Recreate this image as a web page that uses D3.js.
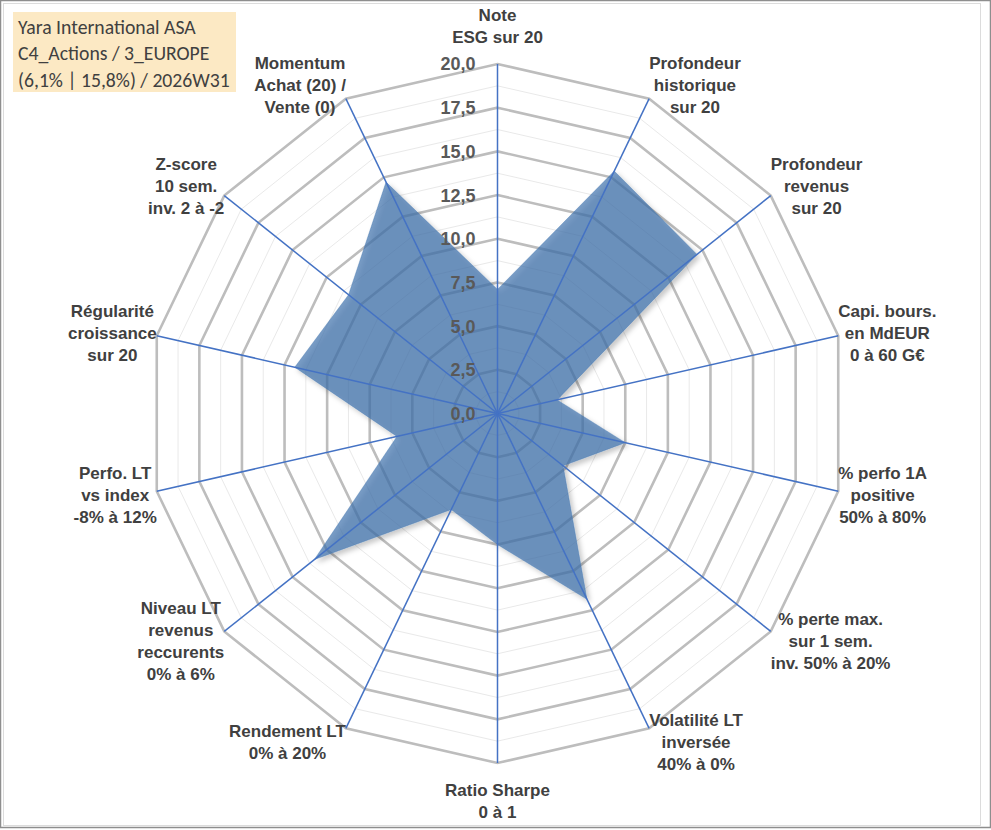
<!DOCTYPE html>
<html>
<head>
<meta charset="utf-8">
<script src="https://cdn.jsdelivr.net/npm/d3@7/dist/d3.min.js"></script>
<style>
  html, body { margin: 0; padding: 0; background: #ffffff; }
  svg { display: block; }
</style>
</head>
<body>
<svg id="chart" width="991" height="830"></svg>
<script>
// ---------------- DATA ----------------
const categories = [
  ["Note", "ESG sur 20"],
  ["Profondeur", "historique", "sur 20"],
  ["Profondeur", "revenus", "sur 20"],
  ["Capi. bours.", "en MdEUR", "0 à 60 G€"],
  ["% perfo 1A", "positive", "50% à 80%"],
  ["% perte max.", "sur 1 sem.", "inv. 50% à 20%"],
  ["Volatilité LT", "inversée", "40% à 0%"],
  ["Ratio Sharpe", "0 à 1"],
  ["Rendement LT", "0% à 20%"],
  ["Niveau LT", "revenus", "reccurents", "0% à 6%"],
  ["Perfo. LT", "vs index", "-8% à 12%"],
  ["Régularité", "croissance", "sur 20"],
  ["Z-score", "10 sem.", "inv. 2 à -2"],
  ["Momentum", "Achat (20) /", "Vente (0)"]
];
const values = [7.1, 15.4, 14.6, 3.5, 7.5, 4.8, 11.8, 7.5, 6.1, 13.4, 5.9, 11.9, 10.9, 14.7];
const majorTicks = [0, 2.5, 5, 7.5, 10, 12.5, 15, 17.5, 20];
const minorTicks = [1.25, 3.75, 6.25, 8.75, 11.25, 13.75, 16.25, 18.75];
const titleLines = ["Yara International ASA", "C4_Actions / 3_EUROPE", "(6,1% | 15,8%) / 2026W31"];

// ---------------- LAYOUT ----------------
const W = 991, H = 830;
const cx = 497.5, cy = 413.5, R = 349.5;
const svg = d3.select("#chart");

const r = d3.scaleLinear().domain([0, 20]).range([0, R]);
const n = categories.length;
const angle = d3.scaleLinear().domain([0, n]).range([0, 2 * Math.PI]);
const fmt = v => d3.format(".1f")(v).replace(".", ",");

// frames
svg.append("rect").attr("x", 0.5).attr("y", 0.5).attr("width", W - 1).attr("height", H - 3)
  .attr("fill", "#ffffff").attr("stroke", "#8e8e8e").attr("stroke-width", 1.5);
svg.append("rect").attr("x", 3.5).attr("y", 3.5).attr("width", 977).attr("height", 822)
  .attr("fill", "none").attr("stroke", "#dcdcdc").attr("stroke-width", 1);

const defs = svg.append("defs");
const f = defs.append("filter").attr("id", "shadow").attr("x", "-10%").attr("y", "-10%")
  .attr("width", "130%").attr("height", "130%");
f.append("feDropShadow").attr("dx", 3).attr("dy", 3).attr("stdDeviation", 2.5)
  .attr("flood-color", "#000").attr("flood-opacity", 0.3);

const g = svg.append("g").attr("transform", `translate(${cx},${cy})`);

const ringLine = d3.lineRadial().curve(d3.curveLinearClosed)
  .angle((d, i) => angle(i)).radius(d => r(d));

// minor grid
g.selectAll("path.minor").data(minorTicks).join("path")
  .attr("class", "minor")
  .attr("d", t => ringLine(d3.range(n).map(() => t)))
  .attr("fill", "none").attr("stroke", "#e9e9e9").attr("stroke-width", 1);

// major grid
g.selectAll("path.major").data(majorTicks.filter(t => t > 0)).join("path")
  .attr("class", "major")
  .attr("d", t => ringLine(d3.range(n).map(() => t)))
  .attr("fill", "none").attr("stroke", "#bdbdbd").attr("stroke-width", 2.6)
  .attr("stroke-linejoin", "miter");

// series fill
g.append("path")
  .datum(values)
  .attr("d", ringLine)
  .attr("fill", "#3f72ad").attr("fill-opacity", 0.7)
  .attr("stroke", "#3f72ad").attr("stroke-opacity", 0.45).attr("stroke-width", 0.8)
  .attr("filter", "url(#shadow)");

// spokes
g.selectAll("line.spoke").data(d3.range(n)).join("line")
  .attr("class", "spoke")
  .attr("x1", 0).attr("y1", 0)
  .attr("x2", i => r(20) * Math.sin(angle(i)))
  .attr("y2", i => -r(20) * Math.cos(angle(i)))
  .attr("stroke", "#4472c4").attr("stroke-width", 1.5);

// tick labels
g.selectAll("text.tick").data(majorTicks).join("text")
  .attr("class", "tick")
  .attr("x", -22).attr("y", t => -r(t))
  .attr("dy", "0.36em")
  .attr("text-anchor", "end")
  .attr("font-family", "Liberation Sans, Arial, sans-serif")
  .attr("font-weight", "bold").attr("font-size", 18)
  .attr("fill", "#595959")
  .text(fmt);

// category labels
const LH = 22;
const labelG = g.selectAll("g.lab").data(categories).join("g").attr("class", "lab");
labelG.each(function (lines, i) {
  const sel = d3.select(this);
  const a = angle(i);
  const sx = Math.sin(a), sy = -Math.cos(a);
  const vx = r(20) * sx, vy = r(20) * sy;
  const texts = sel.selectAll("text").data(lines).join("text")
    .attr("text-anchor", "middle")
    .attr("font-family", "Liberation Sans, Arial, sans-serif")
    .attr("font-weight", "bold").attr("font-size", 17)
    .attr("fill", "#404040")
    .text(d => d);
  let w = 0;
  texts.each(function () { w = Math.max(w, this.getComputedTextLength()); });
  const h = lines.length * LH;
  let bx, by;
  if (Math.abs(sx) < 0.05) {
    bx = vx;
    by = sy < 0 ? vy - 16 - h / 2 : vy + 16 + h / 2;
  } else {
    bx = sx > 0 ? vx + w / 2 : vx - w / 2;
    by = vy + 15 * sy;
  }
  texts.attr("x", bx)
    .attr("y", (d, k) => by - h / 2 + LH * k + LH / 2)
    .attr("dy", "0.36em");
});

// title box
const tg = svg.append("g");
tg.append("rect").attr("x", 13).attr("y", 12).attr("width", 223).attr("height", 80)
  .attr("fill", "#fce9c4");
const tt = tg.selectAll("text").data(titleLines).join("text")
  .attr("x", 18).attr("y", (d, k) => 27 + 26.3 * k).attr("dy", "0.36em")
  .attr("font-family", "Carlito, Calibri, Lato, sans-serif")
  .attr("font-size", 19).attr("fill", "#404040")
  .text(d => d);
const w3 = tt.filter((d, k) => k === 2).node().getComputedTextLength();
tt.attr("font-size", 19 * 212 / w3);
</script>
</body>
</html>
